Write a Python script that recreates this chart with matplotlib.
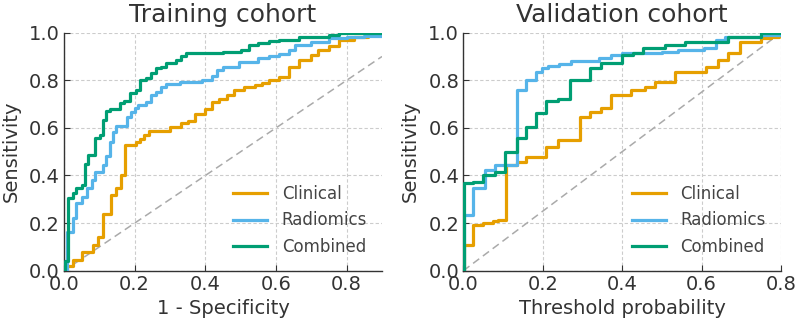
import matplotlib
matplotlib.use("Agg")
import matplotlib.pyplot as plt

# ---- Data ----
train_clin_x = [0, 0.008, 0.026, 0.05, 0.083, 0.096, 0.11, 0.134, 0.148, 0.162, 0.172, 0.205, 0.215, 0.225, 0.24, 0.30, 0.33, 0.35, 0.37, 0.40, 0.42, 0.44, 0.46, 0.48, 0.51, 0.54, 0.56, 0.58, 0.608, 0.637, 0.665, 0.70, 0.72, 0.75, 0.777, 0.82, 0.86, 0.9]
train_clin_y = [0, 0.02, 0.045, 0.08, 0.108, 0.143, 0.24, 0.318, 0.347, 0.40, 0.53, 0.54, 0.555, 0.57, 0.585, 0.605, 0.62, 0.63, 0.66, 0.68, 0.71, 0.72, 0.74, 0.76, 0.77, 0.78, 0.79, 0.80, 0.815, 0.857, 0.885, 0.906, 0.927, 0.945, 0.97, 0.983, 0.99, 0.99]

train_rad_x = [0, 0.008, 0.026, 0.035, 0.05, 0.064, 0.078, 0.087, 0.11, 0.12, 0.13, 0.139, 0.148, 0.177, 0.19, 0.20, 0.21, 0.233, 0.247, 0.26, 0.275, 0.29, 0.327, 0.39, 0.42, 0.434, 0.45, 0.496, 0.55, 0.58, 0.608, 0.637, 0.655, 0.70, 0.75, 0.80, 0.85, 0.9]
train_rad_y = [0, 0.164, 0.22, 0.284, 0.31, 0.347, 0.38, 0.416, 0.444, 0.48, 0.54, 0.584, 0.61, 0.647, 0.665, 0.683, 0.696, 0.71, 0.738, 0.752, 0.773, 0.785, 0.794, 0.80, 0.82, 0.843, 0.857, 0.878, 0.894, 0.90, 0.91, 0.927, 0.948, 0.962, 0.976, 0.983, 0.987, 0.987]

train_comb_x = [0, 0.004, 0.012, 0.026, 0.035, 0.05, 0.059, 0.069, 0.087, 0.101, 0.11, 0.12, 0.13, 0.158, 0.17, 0.186, 0.205, 0.214, 0.233, 0.247, 0.26, 0.275, 0.289, 0.317, 0.33, 0.345, 0.45, 0.50, 0.524, 0.55, 0.58, 0.608, 0.665, 0.75, 0.777, 0.9]
train_comb_y = [0, 0.04, 0.304, 0.325, 0.346, 0.36, 0.45, 0.486, 0.556, 0.57, 0.633, 0.671, 0.68, 0.703, 0.713, 0.745, 0.76, 0.80, 0.81, 0.83, 0.85, 0.857, 0.871, 0.885, 0.90, 0.913, 0.918, 0.927, 0.948, 0.955, 0.965, 0.97, 0.98, 0.99, 1.0, 1.0]

val_clin_x = [0, 0.001, 0.024, 0.05, 0.075, 0.088, 0.108, 0.134, 0.159, 0.209, 0.239, 0.293, 0.318, 0.348, 0.373, 0.423, 0.457, 0.482, 0.532, 0.612, 0.641, 0.667, 0.696, 0.75, 0.775, 0.795, 0.8]
val_clin_y = [0, 0.108, 0.192, 0.20, 0.207, 0.214, 0.444, 0.458, 0.479, 0.521, 0.549, 0.647, 0.668, 0.682, 0.738, 0.76, 0.773, 0.794, 0.836, 0.857, 0.885, 0.913, 0.962, 0.976, 0.983, 0.99, 0.99]

val_rad_x = [0, 0.001, 0.024, 0.054, 0.079, 0.134, 0.159, 0.184, 0.197, 0.213, 0.24, 0.27, 0.343, 0.373, 0.40, 0.50, 0.54, 0.607, 0.637, 0.66, 0.75, 0.8]
val_rad_y = [0, 0.234, 0.346, 0.423, 0.444, 0.76, 0.80, 0.836, 0.85, 0.861, 0.87, 0.88, 0.892, 0.906, 0.915, 0.92, 0.927, 0.934, 0.97, 0.98, 0.99, 0.99]

val_comb_x = [0, 0.001, 0.024, 0.05, 0.079, 0.104, 0.134, 0.159, 0.184, 0.209, 0.239, 0.268, 0.318, 0.348, 0.40, 0.427, 0.453, 0.507, 0.558, 0.667, 0.75, 0.8]
val_comb_y = [0, 0.367, 0.374, 0.40, 0.416, 0.50, 0.556, 0.605, 0.661, 0.713, 0.722, 0.80, 0.85, 0.871, 0.906, 0.913, 0.934, 0.948, 0.96, 0.98, 0.997, 0.997]

labels = ["Clinical", "Radiomics", "Combined"]
colors = ["#E69F00", "#56B4E9", "#009E73"]
yticks = [0.0, 0.2, 0.4, 0.6, 0.8, 1.0]
train_xticks = [0.0, 0.2, 0.4, 0.6, 0.8]
val_xticks = [0.0, 0.2, 0.4, 0.6, 0.8]

TXT = "#333333"
fig = plt.figure(figsize=(7.98, 3.24), dpi=100)
ax1 = fig.add_axes([0.0802, 0.1645, 0.3985, 0.7346])
ax2 = fig.add_axes([0.5806, 0.1645, 0.398, 0.7346])

panels = [
    (ax1, "Training cohort", "1 - Specificity", 0.9, train_xticks, (0.9, 0.9),
     [(train_clin_x, train_clin_y), (train_rad_x, train_rad_y), (train_comb_x, train_comb_y)]),
    (ax2, "Validation cohort", "Threshold probability", 0.8, val_xticks, (0.8, 1.0),
     [(val_clin_x, val_clin_y), (val_rad_x, val_rad_y), (val_comb_x, val_comb_y)]),
]

for ax, title, xlabel, xmax, xt, diag_end, series in panels:
    ax.grid(True, linestyle=(0, (3, 2)), color="#cccccc", linewidth=0.8)
    ax.set_axisbelow(True)
    ax.plot([0, diag_end[0]], [0, diag_end[1]], linestyle=(0, (5, 3)), color="#aaaaaa", linewidth=1.1, zorder=1)
    for (x, y), lab, c in zip(series, labels, colors):
        ax.plot(x, y, drawstyle="steps-post", color=c, linewidth=2.3, label=lab, zorder=3)
    ax.set_xlim(0, xmax)
    ax.set_ylim(0, 1.0)
    ax.set_xticks(xt)
    ax.set_yticks(yticks)
    ax.set_xticklabels([f"{v:.1f}" for v in xt])
    ax.set_yticklabels([f"{v:.1f}" for v in yticks])
    for s in ["top", "right"]:
        ax.spines[s].set_visible(False)
    for s in ["left", "bottom"]:
        ax.spines[s].set_color("#333333")
        ax.spines[s].set_linewidth(1.0)
    ax.tick_params(direction="in", length=4, width=0.8, colors="#333333", labelsize=14, labelcolor=TXT, pad=3)
    ax.set_title(title, fontsize=18, color=TXT, pad=8)
    ax.set_xlabel(xlabel, fontsize=14, color=TXT, labelpad=4)
    ax.set_ylabel("Sensitivity", fontsize=14, color=TXT, labelpad=6)
    leg = ax.legend(loc="lower right", frameon=False, fontsize=12, handlelength=2.0, handletextpad=0.9, labelspacing=0.5)
    for t in leg.get_texts():
        t.set_color("#444444")

fig.savefig("out.png", dpi=100)
